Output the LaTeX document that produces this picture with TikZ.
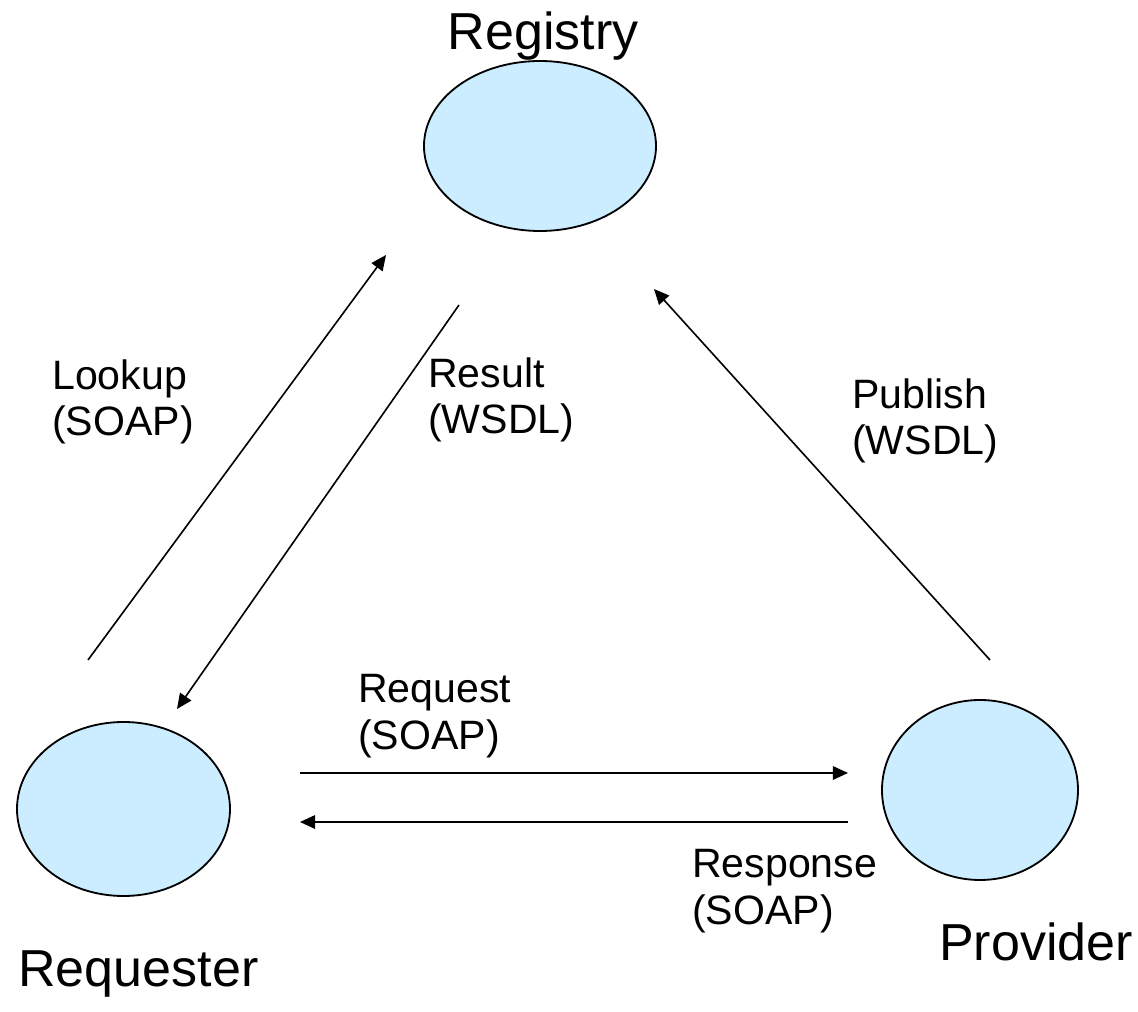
\documentclass[tikz,border=0pt]{standalone}
\usepackage{fontspec}
\setmainfont{Liberation Sans}
\usepackage{tikz}
\usetikzlibrary{positioning}
\usetikzlibrary{shapes}
\usetikzlibrary{arrows.meta}

\definecolor{partyblue}{HTML}{CCECFF}

\begin{document}
\begin{tikzpicture}[
        party/.style={ellipse, draw=black, line width=1.3pt, fill=partyblue, inner sep=0pt},
        partyname/.style={font=\fontsize{37}{44}\selectfont, inner sep=0pt},
        msg/.style={font=\fontsize{29.2}{33.4}\selectfont, align=left, inner sep=0pt, anchor=north west},
        flow/.style={draw=black, line width=1.15pt, -{Triangle[length=0.38cm, width=0.34cm]}}
    ]
        \useasboundingbox (0, 0) rectangle (28.45, 25.275);

        % the three parties
        \node[party, minimum width=5.8cm, minimum height=4.25cm] (registry) at (13.5, 21.625) {};
        \node[party, minimum width=5.325cm, minimum height=4.35cm] (requester) at (3.0875, 5.05) {};
        \node[party, minimum width=4.9cm, minimum height=4.5cm] (provider) at (24.5, 5.525) {};

        \node[partyname, anchor=north] (registryname) at (13.575, 24.975) {Registry};
        \node[partyname, anchor=north] (requestername) at (3.46, 1.525) {Requester};
        \node[partyname, anchor=north west] (providername) at (23.475, 2.2) {Provider};

        % arrow ends
        \coordinate (lookupS) at (2.2, 8.775);
        \coordinate (lookupE) at (9.65, 18.9);
        \coordinate (resultS) at (11.475, 17.65);
        \coordinate (resultE) at (4.425, 7.55);
        \coordinate (publishS) at (24.75, 8.775);
        \coordinate (publishE) at (16.35, 18.05);
        \coordinate (requestS) at (7.5, 5.95);
        \coordinate (requestE) at (21.2, 5.95);
        \coordinate (responseS) at (21.2, 4.725);
        \coordinate (responseE) at (7.5, 4.725);

        \draw[flow] (lookupS) -- (lookupE);
        \draw[flow] (resultS) -- (resultE);
        \draw[flow] (publishS) -- (publishE);
        \draw[flow] (requestS) -- (requestE);
        \draw[flow] (responseS) -- (responseE);

        % messages
        \node[msg] (lookup) at (1.3, 16.3) {Lookup\\(SOAP)};
        \node[msg] (result) at (10.7, 16.35) {Result\\(WSDL)};
        \node[msg] (publish) at (21.3, 15.825) {Publish\\(WSDL)};
        \node[msg] (request) at (8.95, 8.425) {Request\\(SOAP)};
        \node[msg] (response) at (17.3, 4.05) {Response\\(SOAP)};
\end{tikzpicture}
\end{document}
